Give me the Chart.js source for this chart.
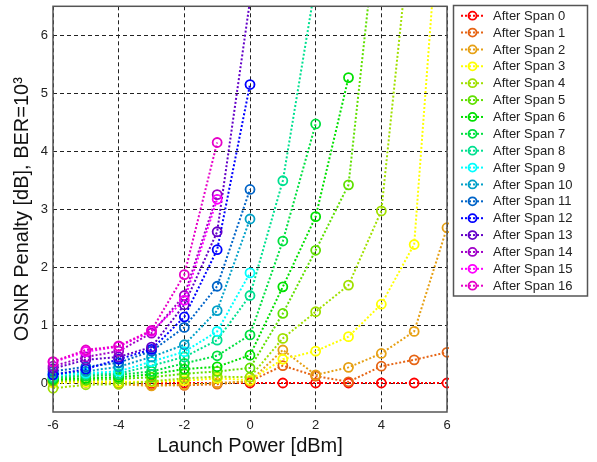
<!DOCTYPE html>
<html>
<head>
<meta charset="utf-8">
<script src="https://cdn.jsdelivr.net/npm/chart.js@4.4.1/dist/chart.umd.min.js"></script>
<style>
  body { margin: 0; background: #fff; }
  #wrap { width: 597px; height: 462px; }
</style>
</head>
<body>
<div id="wrap"><canvas id="myChart" width="597" height="462"></canvas></div>
<script>
// launch power values (x) and tick labels
const launchPower = [-6, -5, -4, -3, -2, -1, 0, 1, 2, 3, 4, 5, 6];
const xTicks = [-6, -4, -2, 0, 2, 4, 6];
const yTicks = [0, 1, 2, 3, 4, 5, 6];

// OSNR penalty per span (null = no point)
const span0  = [0.02, 0.02, 0.01, 0.00, 0.00, 0.00, 0.00, 0.00, 0.00, 0.00, 0.00, 0.00, 0.00];
const span1  = [0.03, 0.03, 0.00, -0.03, -0.04, -0.02, 0.03, 0.30, 0.12, 0.02, 0.29, 0.40, 0.53];
const span2  = [0.02, 0.01, -0.02, -0.05, -0.03, 0.00, 0.03, 0.57, 0.14, 0.27, 0.51, 0.89, 2.68];
const span3  = [0.00, 0.02, 0.02, 0.02, 0.04, 0.08, 0.05, 0.41, 0.55, 0.80, 1.36, 2.39, 10.0];
const span4  = [-0.09, -0.03, -0.02, 0.03, 0.08, 0.11, 0.10, 0.77, 1.23, 1.69, 2.97, 8.4, null];
const span5  = [0.04, 0.05, 0.07, 0.10, 0.16, 0.20, 0.26, 1.20, 2.29, 3.42, 8.6, null, null];
const span6  = [0.06, 0.08, 0.10, 0.15, 0.24, 0.28, 0.48, 1.66, 2.87, 5.27, null, null, null];
const span7  = [0.08, 0.12, 0.14, 0.20, 0.34, 0.47, 0.83, 2.45, 4.47, null, null, null, null];
const span8  = [0.10, 0.15, 0.16, 0.30, 0.45, 0.74, 1.51, 3.49, 6.9, null, null, null, null];
const span9  = [0.14, 0.17, 0.20, 0.37, 0.54, 0.89, 1.90, null, null, null, null, null, null];
const span10 = [0.16, 0.20, 0.28, 0.45, 0.66, 1.25, 2.83, null, null, null, null, null, null];
const span11 = [0.20, 0.28, 0.35, 0.55, 0.96, 1.67, 3.34, null, null, null, null, null, null];
const span12 = [0.14, 0.24, 0.41, 0.58, 1.14, 2.30, 5.15, null, null, null, null, null, null];
const span13 = [0.25, 0.40, 0.45, 0.62, 1.35, 2.61, 6.6, null, null, null, null, null, null];
const span14 = [0.29, 0.45, 0.55, 0.86, 1.51, 3.25, null, null, null, null, null, null, null];
const span15 = [0.36, 0.54, 0.63, 0.89, 1.43, 3.17, null, null, null, null, null, null, null];
const span16 = [0.37, 0.57, 0.64, 0.91, 1.87, 4.15, null, null, null, null, null, null, null];

const allSpans = [span0, span1, span2, span3, span4, span5, span6, span7, span8,
                  span9, span10, span11, span12, span13, span14, span15, span16];

const spanColors = ['#ff0000', '#e66414', '#e6a014', '#ffff00', '#a0e000', '#60e000',
                    '#00e000', '#00e040', '#00e090', '#00ffff', '#00a0c8', '#0064c8',
                    '#0000ff', '#6400c8', '#a000c8', '#ff00ff', '#e600c8'];

const FONT = '"Liberation Sans", Arial, sans-serif';

const datasets = allSpans.map((values, i) => ({
    label: 'After Span ' + i,
    data: launchPower.map((x, j) => ({ x: x, y: values[j] })),
    borderColor: spanColors[i],
    borderWidth: 2,
    borderDash: [2, 2],
    borderCapStyle: 'butt',
    pointStyle: 'circle',
    pointRadius: 4.5,
    pointBorderWidth: 1.8,
    pointBorderColor: spanColors[i],
    pointBackgroundColor: 'rgba(0,0,0,0)',
    tension: 0,
    spanGaps: false,
    order: -i,
    clip: { left: 6, top: 0, right: 2, bottom: 6 }
}));

const frameBox = {
    id: 'frameBox',
    afterDatasetsDraw(chart) {
        const { ctx, chartArea } = chart;
        ctx.save();
        ctx.strokeStyle = '#555';
        ctx.lineWidth = 1.5;
        ctx.strokeRect(chartArea.left, chartArea.top, chartArea.right - chartArea.left, chartArea.bottom - chartArea.top);
        ctx.restore();
    }
};

const legendBox = {
    id: 'legendBox',
    afterDraw(chart) {
        const ctx = chart.ctx;
        ctx.save();
        ctx.fillStyle = '#fff';
        ctx.fillRect(453.5, 5.5, 134, 290.5);
        ctx.strokeStyle = '#555';
        ctx.lineWidth = 1.5;
        ctx.strokeRect(453.5, 5.5, 134, 290.5);

        chart.data.datasets.forEach((ds, i) => {
            const y = 15.7 + i * 16.875;
            ctx.strokeStyle = ds.borderColor;
            ctx.setLineDash([2, 2]);
            ctx.lineWidth = 2;
            ctx.beginPath();
            ctx.moveTo(461, y);
            ctx.lineTo(484, y);
            ctx.stroke();
            ctx.setLineDash([]);
            ctx.lineWidth = 1.8;
            ctx.beginPath();
            ctx.arc(472.5, y, 4, 0, 2 * Math.PI);
            ctx.stroke();
            ctx.fillStyle = '#222';
            ctx.font = '13px ' + FONT;
            ctx.textBaseline = 'middle';
            ctx.fillText(ds.label, 493, y + 0.5);
        });
        ctx.restore();
    }
};

const ctx = document.getElementById('myChart').getContext('2d');
const myChart = new Chart(ctx, {
    type: 'line',
    data: { datasets: datasets },
    plugins: [frameBox, legendBox],
    options: {
        responsive: false,
        animation: false,
        layout: { padding: { top: 6, right: 150, left: 0, bottom: 0 } },
        plugins: {
            legend: { display: false },
            tooltip: { enabled: false }
        },
        scales: {
            x: {
                type: 'linear',
                min: -6,
                max: 6,
                afterBuildTicks: (scale) => { scale.ticks = xTicks.map(v => ({ value: v })); },
                afterFit: (scale) => { scale.height = 50; scale.paddingLeft = 0; scale.paddingRight = 0; },
                ticks: { color: '#222', font: { family: FONT, size: 13 }, padding: 6, maxRotation: 0 },
                grid: { color: '#222', lineWidth: 1, drawTicks: false },
                border: { display: false, dash: [4, 3] },
                title: {
                    display: true,
                    text: 'Launch Power [dBm]',
                    color: '#111',
                    font: { family: FONT, size: 20 },
                    padding: { top: 0, bottom: 4 }
                }
            },
            y: {
                type: 'linear',
                min: -0.5,
                max: 6.5,
                afterBuildTicks: (scale) => { scale.ticks = yTicks.map(v => ({ value: v })); },
                afterFit: (scale) => { scale.width = 53; scale.paddingTop = 0; scale.paddingBottom = 0; },
                ticks: { color: '#222', font: { family: FONT, size: 13 }, padding: 5 },
                grid: { color: '#222', lineWidth: 1, drawTicks: false },
                border: { display: false, dash: [4, 3] },
                title: {
                    display: true,
                    text: 'OSNR Penalty [dB], BER=10³',
                    color: '#111',
                    font: { family: FONT, size: 20 },
                    padding: { top: 10, bottom: 0 }
                }
            }
        }
    }
});
</script>
</body>
</html>
